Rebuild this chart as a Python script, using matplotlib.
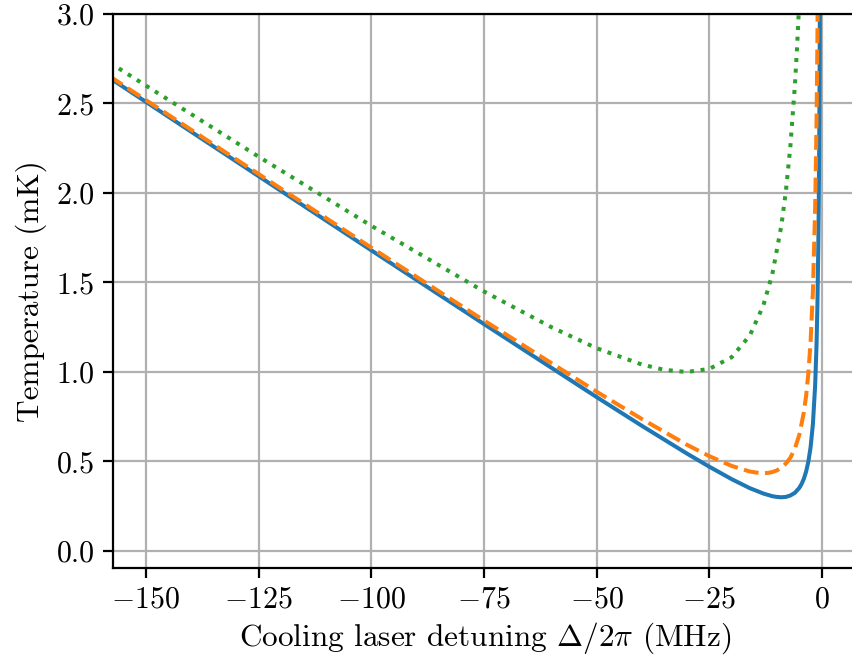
import matplotlib
matplotlib.use("Agg")
import matplotlib.pyplot as plt

# values (detuning in MHz, temperature in mK)
det_blue = [-158, -150, -125, -100, -75, -50, -40, -30, -25, -20, -16, -13, -11,
            -10, -9, -8, -7, -6, -5, -4.5, -4, -3.5, -3, -2.5, -2, -1.5, -1.2,
            -1, -0.8, -0.7, -0.6, -0.5, -0.4]
temp_blue = [2.642, 2.509, 2.094, 1.680, 1.268, 0.860, 0.700, 0.545, 0.471, 0.401,
             0.351, 0.321, 0.306, 0.302, 0.300, 0.302, 0.310, 0.325, 0.353, 0.375,
             0.404, 0.444, 0.500, 0.582, 0.708, 0.925, 1.145, 1.367, 1.701, 1.940,
             2.260, 2.708, 3.38]

det_orange = [-158, -150, -125, -100, -75, -50, -40, -30, -25, -20, -16, -14, -13,
              -12, -11, -10, -9, -8, -7, -6, -5, -4, -3.5, -3, -2.5, -2, -1.5,
              -1.2, -1, -0.8]
temp_orange = [2.651, 2.519, 2.106, 1.695, 1.288, 0.890, 0.738, 0.594, 0.530, 0.475,
               0.444, 0.436, 0.435, 0.436, 0.441, 0.450, 0.465, 0.488, 0.521, 0.572,
               0.650, 0.775, 0.868, 0.994, 1.175, 1.450, 1.914, 2.381, 2.850, 3.555]

det_green = [-158, -150, -125, -100, -75, -60, -50, -40, -35, -30, -25, -20, -16,
             -13, -11, -9, -8, -7, -6, -5.5, -5, -4.5]
temp_green = [2.728, 2.600, 2.203, 1.817, 1.450, 1.250, 1.133, 1.042, 1.012, 1.000,
              1.017, 1.083, 1.204, 1.371, 1.547, 1.817, 2.008, 2.260, 2.600, 2.819,
              3.083, 3.41]

xticks = [-150, -125, -100, -75, -50, -25, 0]
yticks = [0.0, 0.5, 1.0, 1.5, 2.0, 2.5, 3.0]

plt.rcParams['font.family'] = 'cmr10'
plt.rcParams['mathtext.fontset'] = 'cm'
plt.rcParams['axes.formatter.use_mathtext'] = True
plt.rcParams['font.size'] = 21

fig = plt.figure(figsize=(8.52, 6.59), dpi=100)
ax = fig.add_axes([0.1326, 0.1381, 0.8744, 0.8407])

ax.plot(det_blue, temp_blue, color='#1f77b4', lw=2.9, ls='-')
ax.plot(det_orange, temp_orange, color='#ff7f0e', lw=2.9, ls=(0, (3.7, 1.6)))
ax.plot(det_green, temp_green, color='#2ca02c', lw=2.9, ls=(0, (1, 1.65)))

ax.set_xlim(-157.3, 8)
ax.set_ylim(-0.095, 3.0)
ax.set_xticks(xticks)
ax.set_yticks(yticks)
ax.set_yticklabels([f"{v:.1f}" for v in yticks])
ax.grid(True, color='#b0b0b0', lw=1.6)
ax.set_axisbelow(True)
for s in ax.spines.values():
    s.set_linewidth(1.6)
ax.tick_params(width=1.6, length=7, pad=6, labelsize=21.5)

ax.set_xlabel(r"Cooling laser detuning $\Delta/2\pi$ (MHz)", fontsize=22.5, labelpad=5)
ax.set_ylabel("Temperature (mK)", fontsize=22.5, labelpad=7)

fig.savefig("out.png", dpi=100)
